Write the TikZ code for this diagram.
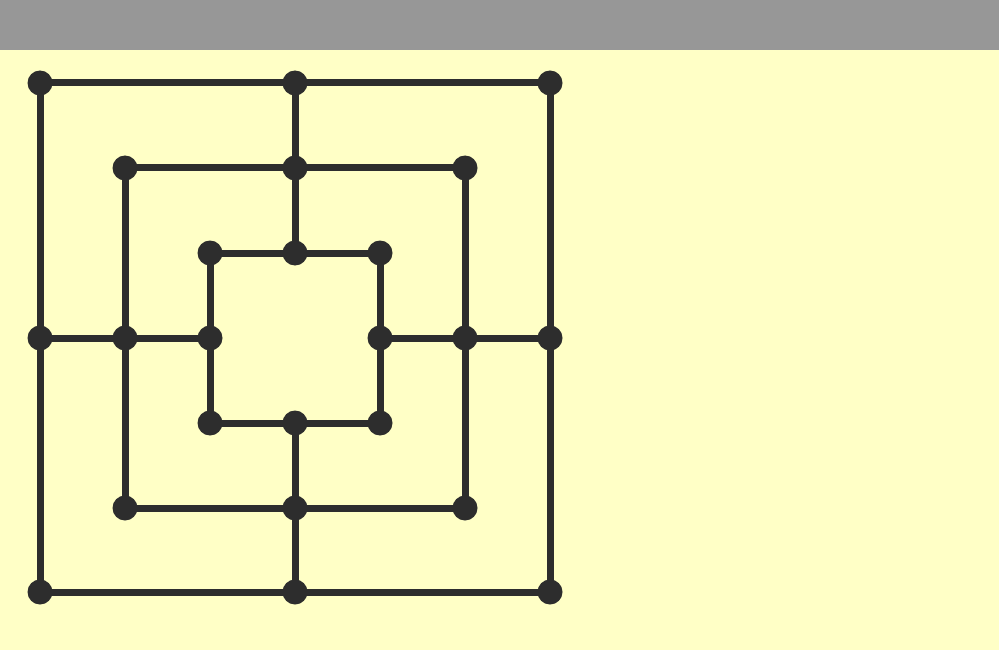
\documentclass[tikz,border=0pt]{standalone}
\definecolor{bgyellow}{HTML}{FFFFC6}
\definecolor{bargray}{HTML}{979797}
\definecolor{ink}{HTML}{2D2D2D}
\begin{document}
\begin{tikzpicture}[x=1pt,y=-1pt,
  pt/.style={circle,fill=ink,inner sep=0pt,minimum size=25pt},
  ln/.style={draw=ink,line width=7pt}]
\useasboundingbox (0,0) rectangle (999,650);
\fill[bgyellow] (0,0) rectangle (999,650);
\fill[bargray] (0,0) rectangle (999,50);
% coordinates
\foreach \n/\x/\y in {
  a1/40/83, a2/295/83, a3/550/83, a4/550/338, a5/550/592, a6/295/592, a7/40/592, a8/40/338,
  b1/125/168, b2/295/168, b3/465/168, b4/465/338, b5/465/508, b6/295/508, b7/125/508, b8/125/338,
  c1/210/253, c2/295/253, c3/380/253, c4/380/338, c5/380/423, c6/295/423, c7/210/423, c8/210/338}
  \coordinate (\n) at (\x,\y);
\draw[ln] (a1.center) -- (a3.center) -- (a5.center) -- (a7.center) -- cycle;
\draw[ln] (b1.center) -- (b3.center) -- (b5.center) -- (b7.center) -- cycle;
\draw[ln] (c1.center) -- (c3.center) -- (c5.center) -- (c7.center) -- cycle;
\draw[ln] (a2) -- (c2);
\draw[ln] (c6) -- (a6);
\draw[ln] (a8) -- (c8);
\draw[ln] (c4) -- (a4);
\foreach \n in {a1,a2,a3,a4,a5,a6,a7,a8,b1,b2,b3,b4,b5,b6,b7,b8,c1,c2,c3,c4,c5,c6,c7,c8}
  \node[pt] (n\n) at (\n) {};
\end{tikzpicture}
\end{document}
